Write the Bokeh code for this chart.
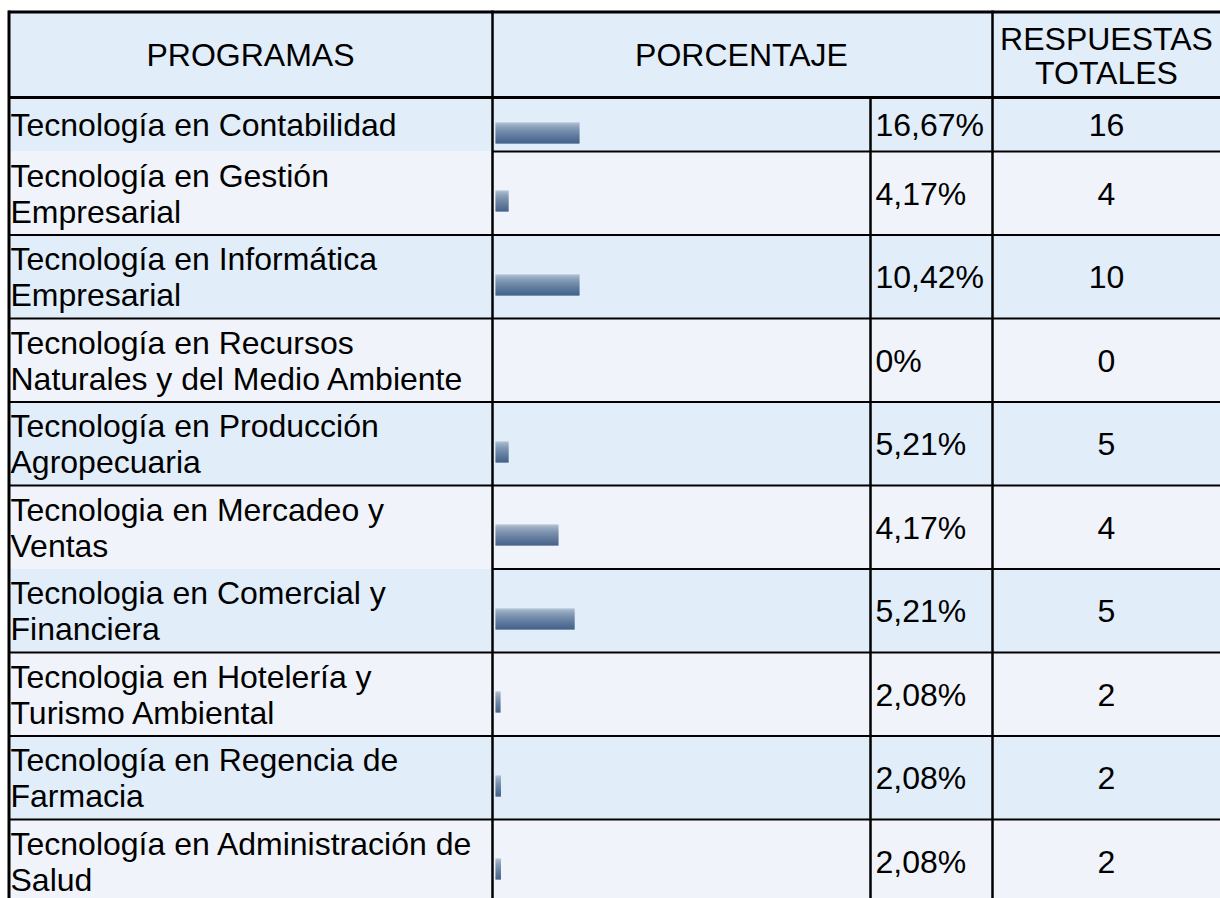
from bokeh.plotting import figure
from bokeh.models import Range1d, ColumnDataSource
from bokeh.core.properties import value
from bokeh.embed import file_html
from bokeh.resources import INLINE

# ---------------- data ----------------
encabezados = ["PROGRAMAS", "PORCENTAJE", "RESPUESTAS\nTOTALES"]
programas = [
    "Tecnología en Contabilidad",
    "Tecnología en Gestión\nEmpresarial",
    "Tecnología en Informática\nEmpresarial",
    "Tecnología en Recursos\nNaturales y del Medio Ambiente",
    "Tecnología en Producción\nAgropecuaria",
    "Tecnologia en Mercadeo y\nVentas",
    "Tecnologia en Comercial y\nFinanciera",
    "Tecnologia en Hotelería y\nTurismo Ambiental",
    "Tecnología en Regencia de\nFarmacia",
    "Tecnología en Administración de\nSalud",
]
porcentajes = [16.67, 4.17, 10.42, 0, 5.21, 4.17, 5.21, 2.08, 2.08, 2.08]
respuestas = [16, 4, 10, 0, 5, 4, 5, 2, 2, 2]
# bar lengths as drawn in the picture (same units as the percentages)
longitud_barra = [16.67, 2.6, 16.67, 0, 2.6, 12.5, 15.7, 1.0, 1.1, 1.1]

# ---------------- layout (page pixels) ----------------
W, H = 1220, 898
X0, X1 = 8, 1220
col_bar, col_pct, col_resp = 492, 870, 992
top_line = 11.5
header_bottom = 97
first_row_h = 54
row_h = 83.5
bar_x0 = 495
escala = 84 / 16.67          # px per percentage unit
bar_h = 21
font = value("Liberation Sans")
fs = "32px"
blue = "#E1EDF9"
gray = "#F0F4FA"
dy = -11                     # baseline correction of the svg renderer

n = len(programas)
bounds = [header_bottom, header_bottom + first_row_h]
for i in range(1, n):
    bounds.append(bounds[-1] + row_h)
centers = [(bounds[i] + bounds[i + 1]) / 2 for i in range(n)]

p = figure(width=W, height=H, x_range=Range1d(0, W), y_range=Range1d(H, 0),
           output_backend="svg", toolbar_location=None,
           x_axis_type=None, y_axis_type=None, min_border=0)
p.outline_line_color = None
p.background_fill_color = "white"
p.border_fill_color = "white"
p.xgrid.visible = False
p.ygrid.visible = False

# backgrounds
bg = dict(left=[X0], right=[X1], top=[10], bottom=[header_bottom], color=[blue])
for i in range(n):
    bg["left"].append(X0)
    bg["right"].append(X1)
    bg["top"].append(bounds[i])
    bg["bottom"].append(bounds[i + 1])
    bg["color"].append(blue if i % 2 == 0 else gray)
p.quad(left="left", right="right", top="top", bottom="bottom", fill_color="color",
       line_color=None, source=ColumnDataSource(bg))

# gradient bars (stack of 1px strips)
c_top = (166, 184, 202)
c_bot = (18, 54, 104)
gb = dict(left=[], right=[], top=[], bottom=[], color=[])
for i in range(n):
    L = longitud_barra[i] * escala
    if L <= 0:
        continue
    y0 = round(centers[i] - 2.5)
    for k in range(bar_h):
        t = (k / (bar_h - 1)) ** 0.65
        col = tuple(int(round(c_top[j] + (c_bot[j] - c_top[j]) * t)) for j in range(3))
        gb["left"].append(bar_x0)
        gb["right"].append(bar_x0 + L)
        gb["top"].append(y0 + k)
        gb["bottom"].append(y0 + k + 1)
        gb["color"].append("#%02x%02x%02x" % col)
p.quad(left="left", right="right", top="top", bottom="bottom", fill_color="color",
       line_color=None, source=ColumnDataSource(gb))

# grid lines
def seg(x0, y0, x1, y1, w):
    p.segment(x0=x0, y0=y0, x1=x1, y1=y1, line_color="black", line_width=w)

seg([X0], [top_line], [X1], [top_line], 3)
seg([8.5], [10], [8.5], [H], 3)
seg([X0], [header_bottom], [X1], [header_bottom], 3)
hx0, hy, hx1 = [], [], []
for i in range(1, n + 1):
    b = bounds[i]
    start = col_bar if i in (1, 6) else X0
    hx0.append(start); hx1.append(X1); hy.append(b)
seg(hx0, hy, hx1, hy, 2)
seg([col_bar, col_resp], [10, 10], [col_bar, col_resp], [H, H], 2.5)
seg([col_pct], [header_bottom], [col_pct], [H], 2.5)

# texts
txt = dict(x=[], y=[], t=[], align=[])
def add(x, y, t, a):
    txt["x"].append(x); txt["y"].append(y + dy); txt["t"].append(t); txt["align"].append(a)

cx_resp = (col_resp + X1) / 2
add((X0 + col_bar) / 2, 65.5, encabezados[0], "center")
add((col_bar + col_resp) / 2 - 1, 65.5, encabezados[1], "center")
rl = encabezados[2].split("\n")
add(cx_resp, 49.5, rl[0], "center")
add(cx_resp, 83.5, rl[1], "center")

for i in range(n):
    c = centers[i]
    lines = programas[i].split("\n")
    if len(lines) == 1:
        add(10, c + 11.5, lines[0], "left")
    else:
        add(10, c - 6.5, lines[0], "left")
        add(10, c + 29.5, lines[1], "left")
    pv = porcentajes[i]
    plabel = "0%" if pv == 0 else ("%.2f%%" % pv).replace(".", ",")
    add(875, c + 11.5, plabel, "left")
    add(cx_resp, c + 11.5, str(respuestas[i]), "center")

p.text(x="x", y="y", text="t", text_align="align", source=ColumnDataSource(txt),
       text_font=font, text_font_size=fs, text_baseline="alphabetic", text_color="black")

open("out.html", "w").write(file_html(p, INLINE))
